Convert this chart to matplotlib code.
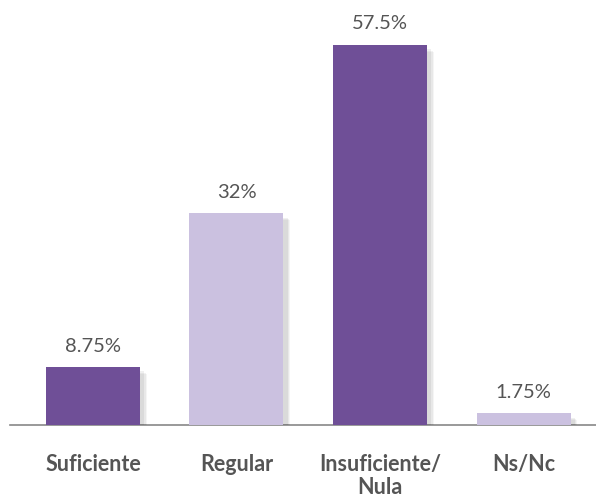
import matplotlib
matplotlib.use("Agg")
import matplotlib.pyplot as plt
import matplotlib.patheffects as pe

categories = ["Suficiente", "Regular", "Insuficiente/\nNula", "Ns/Nc"]
values = [8.75, 32, 57.5, 1.75]
value_labels = ["8.75%", "32%", "57.5%", "1.75%"]
colors = ["#6f4f97", "#cbc1e0", "#6f4f97", "#cbc1e0"]

fig = plt.figure(figsize=(5.96, 5.01), dpi=100)
ax = fig.add_axes([10 / 596, 76 / 501, 586 / 596, 425 / 501])

x = list(range(len(values)))
bars = ax.bar(x, values, width=0.655, color=colors, zorder=3)
for b in bars:
    b.set_path_effects([
        pe.SimplePatchShadow(offset=(5, -5), shadow_rgbFace="#000000", alpha=0.04),
        pe.SimplePatchShadow(offset=(4, -4), shadow_rgbFace="#000000", alpha=0.05),
        pe.SimplePatchShadow(offset=(3, -3), shadow_rgbFace="#000000", alpha=0.06),
        pe.Normal()])

for xi, v, lab in zip(x, values, value_labels):
    ax.text(xi, v + 1.9, lab, ha="center", va="bottom", fontsize=14.5,
            color="#555555", family="Lato", fontweight="normal")

ax.set_xlim(-0.578, 3.505)
ax.set_ylim(0, 64.3)
for s in ["top", "right", "left"]:
    ax.spines[s].set_visible(False)
ax.spines["bottom"].set_color("#888888")
ax.spines["bottom"].set_linewidth(1.2)
ax.set_yticks([])
ax.set_xticks(x)
ax.set_xticklabels(categories, fontsize=15.5, fontweight="bold", color="#555555",
                   family="Lato", linespacing=1.1)
ax.tick_params(axis="x", length=0, pad=21)

fig.savefig("out.png", dpi=100)
